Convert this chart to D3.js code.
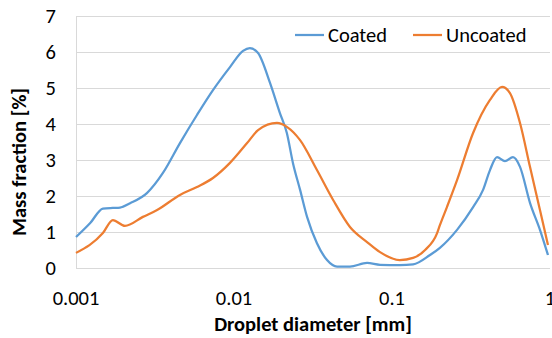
<!DOCTYPE html>
<html>
<head>
<meta charset="utf-8">
<script src="https://cdn.jsdelivr.net/npm/d3@7"></script>
<style>
    body { margin: 0; background: #ffffff; }
    text { font-family: Carlito, "Liberation Sans", Arial, sans-serif; fill: #000000; }
</style>
</head>
<body>
<div id="chart"></div>
<script>
// droplet diameters [mm] and mass fractions [%]
let coatedDiameter = [0.00100, 0.00123, 0.00148, 0.00171, 0.00190, 0.00220,
                      0.00281, 0.00355, 0.00455, 0.00583, 0.00736, 0.00943,
                      0.0114, 0.0126, 0.0142, 0.0169, 0.0195, 0.0216, 0.0236,
                      0.0262, 0.0290, 0.0335, 0.0388, 0.0449, 0.0542, 0.0695,
                      0.0840, 0.112, 0.136, 0.174, 0.201, 0.258, 0.326, 0.377,
                      0.417, 0.462, 0.519, 0.583, 0.646, 0.747, 0.864, 0.971];
let coatedValues = [0.86, 1.25, 1.65, 1.67, 1.68, 1.80,
                    2.08, 2.64, 3.47, 4.25, 4.94, 5.58,
                    6.03, 6.11, 5.97, 5.14, 4.31, 3.75, 2.92,
                    2.17, 1.42, 0.69, 0.22, 0.04, 0.04, 0.14,
                    0.09, 0.08, 0.10, 0.36, 0.56, 1.06, 1.69, 2.17,
                    2.72, 3.08, 2.97, 3.08, 2.81, 1.81, 1.06, 0.36];

let uncoatedDiameter = [0.00100, 0.00148, 0.00171, 0.00204, 0.00265, 0.00326,
                        0.00455, 0.00583, 0.00736, 0.00943, 0.0121, 0.0142,
                        0.0187, 0.0216, 0.0262, 0.0335, 0.0424, 0.0542, 0.0695,
                        0.0840, 0.112, 0.136, 0.162, 0.193, 0.201, 0.223, 0.258,
                        0.326, 0.417, 0.497, 0.558, 0.646, 0.747, 0.864, 0.971];
let uncoatedValues = [0.42, 0.97, 1.33, 1.17, 1.42, 1.61,
                      2.03, 2.25, 2.50, 2.92, 3.47, 3.83,
                      4.03, 3.92, 3.55, 2.72, 1.89, 1.14, 0.72,
                      0.44, 0.22, 0.28, 0.50, 0.97, 1.19, 1.70, 2.44,
                      3.75, 4.67, 5.03, 4.86, 4.03, 2.81, 1.61, 0.64];

let seriesNames = ["Coated", "Uncoated"];
let seriesColors = ["#5B9BD5", "#ED7D31"];

let xTicks = [0.001, 0.01, 0.1, 1];
let xTickLabels = ["0.001", "0.01", "0.1", "1"];
let yTicks = [0, 1, 2, 3, 4, 5, 6, 7];


window.onload = function() {
    let dims = {w: 552, h: 338, left: 76, right: 550, top: 16, bottom: 268};
    makeChart(dims);
};


/**
 * Draws the two size distributions with grid, axes and legend.
 */
function makeChart(dims) {
    let svg = d3.select("#chart")
                .append("svg")
                .attr("width", dims.w)
                .attr("height", dims.h);

    // log scale for the diameter, linear for the mass fraction
    let xScale = d3.scaleLog()
                   .domain([0.001, 1])
                   .range([dims.left, dims.right]);
    let yScale = d3.scaleLinear()
                   .domain([0, 7])
                   .range([dims.bottom, dims.top]);

    let fontSize = "20.5px";

    // horizontal grid lines
    svg.append("g")
       .selectAll("line")
       .data(yTicks)
       .enter()
       .append("line")
       .attr("x1", dims.left)
       .attr("x2", dims.right)
       .attr("y1", d => yScale(d) + 0.5)
       .attr("y2", d => yScale(d) + 0.5)
       .attr("stroke", "#D9D9D9")
       .attr("stroke-width", 1);

    // left axis line
    svg.append("line")
       .attr("x1", dims.left + 0.5)
       .attr("x2", dims.left + 0.5)
       .attr("y1", dims.top)
       .attr("y2", dims.bottom)
       .attr("stroke", "#D9D9D9");

    // y tick labels
    svg.append("g")
       .selectAll("text")
       .data(yTicks)
       .enter()
       .append("text")
       .attr("x", 56)
       .attr("y", d => yScale(d) + 6.5)
       .attr("text-anchor", "end")
       .style("font-size", fontSize)
       .text(d => d);

    // x tick labels
    svg.append("g")
       .selectAll("text")
       .data(xTicks)
       .enter()
       .append("text")
       .attr("x", d => xScale(d))
       .attr("y", 305)
       .attr("text-anchor", "middle")
       .style("font-size", fontSize)
       .text((d, i) => xTickLabels[i]);

    // axis titles
    svg.append("text")
       .attr("x", (dims.left + dims.right) / 2)
       .attr("y", 331)
       .attr("text-anchor", "middle")
       .style("font-size", fontSize)
       .style("font-weight", "bold")
       .text("Droplet diameter [mm]");

    svg.append("text")
       .attr("transform", "translate(25.5,162) rotate(-90)")
       .attr("text-anchor", "middle")
       .style("font-size", fontSize)
       .style("font-weight", "bold")
       .text("Mass fraction [%]");

    // the two curves
    let series = [
        {name: seriesNames[0], x: coatedDiameter, y: coatedValues},
        {name: seriesNames[1], x: uncoatedDiameter, y: uncoatedValues}
    ];

    let line = d3.line()
                 .x(d => xScale(d[0]))
                 .y(d => yScale(d[1]))
                 .curve(d3.curveMonotoneX);

    svg.append("g")
       .selectAll("path")
       .data(series)
       .enter()
       .append("path")
       .attr("d", d => line(d3.zip(d.x, d.y)))
       .attr("fill", "none")
       .attr("stroke", (d, i) => seriesColors[i])
       .attr("stroke-width", 2.25)
       .attr("stroke-linejoin", "round");

    // legend
    let legendX = [295, 413];
    let legend = svg.append("g")
                    .selectAll("g")
                    .data(seriesNames)
                    .enter()
                    .append("g")
                    .attr("transform", (d, i) => "translate(" + legendX[i] + ",35)");

    legend.append("line")
          .attr("x1", 0)
          .attr("x2", 29)
          .attr("stroke", (d, i) => seriesColors[i])
          .attr("stroke-width", 2.25);

    legend.append("text")
          .attr("x", 33)
          .attr("y", 7)
          .style("font-size", fontSize)
          .text(d => d);
}
</script>
</body>
</html>
